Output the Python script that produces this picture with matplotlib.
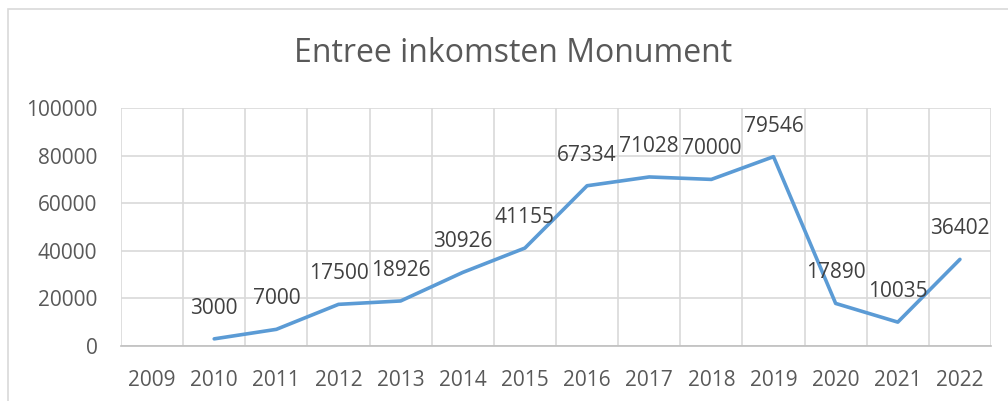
import numpy as np
import matplotlib
matplotlib.use("Agg")
import matplotlib.pyplot as plt
from matplotlib.patches import Rectangle

plt.rcParams['font.family'] = ['Open Sans', 'DejaVu Sans']

years = ['2009', '2010', '2011', '2012', '2013', '2014', '2015',
         '2016', '2017', '2018', '2019', '2020', '2021', '2022']
# no value for 2009
income = [np.nan, 3000, 7000, 17500, 18926, 30926, 41155,
          67334, 71028, 70000, 79546, 17890, 10035, 36402]
yticks = [0, 20000, 40000, 60000, 80000, 100000]

line_col = '#5B9BD5'
grid_col = '#D9D9D9'
text_col = '#595959'
label_col = '#404040'

fig = plt.figure(figsize=(10.08, 4.01), dpi=100)
# chart border like the Excel chart area
fig.patches.append(Rectangle((8 / 1008, -0.1), 1.1, 1 - 9 / 401 + 0.1,
                             transform=fig.transFigure, fill=False,
                             edgecolor=grid_col, linewidth=1.2))

ax = fig.add_axes([121 / 1008, 1 - 346 / 401, 870 / 1008, 238 / 401])
x = np.arange(len(years))
ax.plot(x, income, color=line_col, linewidth=2.6, solid_capstyle='round')

for xi, v in zip(x, income):
    if np.isnan(v):
        continue
    ax.annotate(str(v), (xi, v), xytext=(0, 18), textcoords='offset points',
                ha='center', va='baseline', fontsize=15, color=label_col)

ax.set_xlim(-0.5, len(years) - 0.5)
ax.set_ylim(0, 100000)
ax.set_yticks(yticks)
ax.set_yticklabels([str(t) for t in yticks])
ax.set_xticks(x)
ax.set_xticklabels(years)
ax.set_xticks(np.arange(-0.5, len(years), 1), minor=True)

ax.grid(axis='y', color=grid_col, linewidth=1.2)
ax.grid(axis='x', which='minor', color=grid_col, linewidth=1.2)
ax.set_axisbelow(True)
for s in ['top', 'right', 'left']:
    ax.spines[s].set_visible(False)
ax.spines['bottom'].set_color('#BFBFBF')
ax.spines['bottom'].set_linewidth(1.2)
ax.tick_params(axis='both', which='both', length=0, colors=text_col,
               labelsize=15)
ax.tick_params(axis='y', pad=17)
ax.tick_params(axis='x', pad=17)

fig.text(513 / 1008, 1 - 53 / 401, 'Entree inkomsten Monument',
         ha='center', va='center', fontsize=23, color=text_col)

fig.savefig('out.png', dpi=100)
